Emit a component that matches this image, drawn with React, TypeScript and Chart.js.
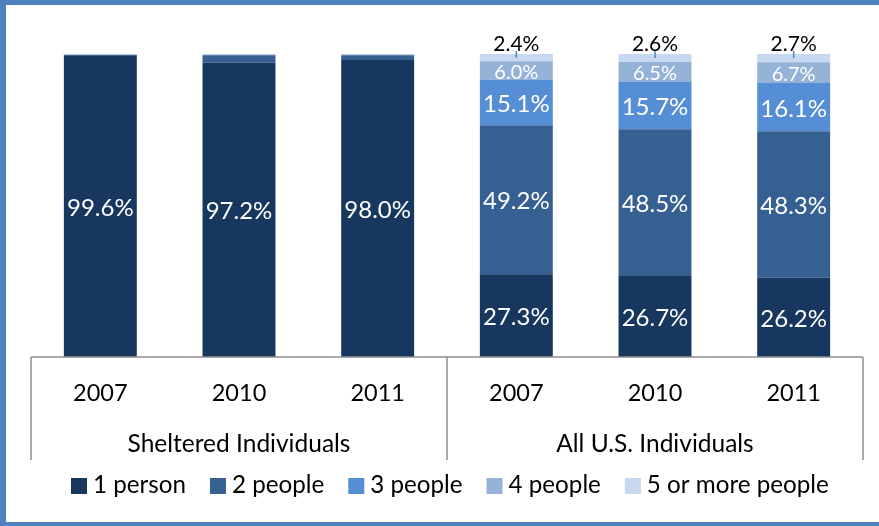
import React, { useEffect, useRef } from "react";
import { Chart, registerables } from "chart.js";

Chart.register(...registerables);

const categories = ["2007", "2010", "2011", "2007", "2010", "2011"];
const groups = ["Sheltered Individuals", "All U.S. Individuals"];
const groupSizes = [3, 3];
const seriesNames = ["1 person", "2 people", "3 people", "4 people", "5 or more people"];
const onePerson = [99.6, 97.2, 98.0, 27.3, 26.7, 26.2];
const twoPeople = [0.1, 2.4, 1.6, 49.2, 48.5, 48.3];
const threePeople = [0.05, 0.1, 0.1, 15.1, 15.7, 16.1];
const fourPeople = [0.05, 0.1, 0.1, 6.0, 6.5, 6.7];
const fivePlus = [0.2, 0.2, 0.2, 2.4, 2.6, 2.7];
const colors = ["#17375E", "#376092", "#558ED5", "#95B3D7", "#C6D9F1"];

const FONT = "Lato, 'Open Sans', sans-serif";

const fmt = (v: number) => v.toFixed(1) + "%";

const overlayPlugin = {
  id: "overlay",
  afterDatasetsDraw(chart: any) {
    const ctx = chart.ctx;
    const area = chart.chartArea;
    const xs = chart.scales.x;
    ctx.save();
    // data labels
    const nds = chart.data.datasets.length;
    chart.data.datasets.forEach((ds: any, di: number) => {
      const meta = chart.getDatasetMeta(di);
      meta.data.forEach((bar: any, i: number) => {
        const v = ds.data[i];
        const cy = (bar.y + bar.base) / 2;
        if (v >= 5) {
          ctx.fillStyle = "#FFFFFF";
          ctx.font = (v < 10 ? "20px " : "24px ") + FONT;
          ctx.textAlign = "center";
          ctx.textBaseline = "middle";
          ctx.fillText(fmt(v), bar.x, cy + 2);
        } else if (di === nds - 1 && v >= 1) {
          ctx.strokeStyle = "#4F81BD";
          ctx.lineWidth = 1.5;
          ctx.beginPath();
          ctx.moveTo(bar.x, bar.y - 3);
          ctx.lineTo(bar.x, cy);
          ctx.stroke();
          ctx.fillStyle = "#000000";
          ctx.font = "21px " + FONT;
          ctx.textAlign = "center";
          ctx.textBaseline = "alphabetic";
          ctx.fillText(fmt(v), bar.x, bar.y - 3);
        }
      });
    });
    // axis
    ctx.strokeStyle = "#8E8E8E";
    ctx.lineWidth = 1.5;
    const bottom = area.bottom;
    const lineBottom = bottom + 103;
    ctx.beginPath();
    ctx.moveTo(area.left, bottom);
    ctx.lineTo(area.right, bottom);
    let idx = 0;
    const bounds: number[] = [area.left];
    groupSizes.forEach((n, gi) => {
      idx += n;
      if (gi < groupSizes.length - 1) {
        bounds.push((xs.getPixelForValue(idx - 1) + xs.getPixelForValue(idx)) / 2);
      }
    });
    bounds.push(area.right);
    bounds.forEach((bx) => {
      ctx.moveTo(bx, bottom);
      ctx.lineTo(bx, lineBottom);
    });
    ctx.stroke();
    // year ticks
    ctx.fillStyle = "#000000";
    ctx.font = "23.5px " + FONT;
    ctx.textAlign = "center";
    ctx.textBaseline = "alphabetic";
    categories.forEach((c, i) => {
      ctx.fillText(c, xs.getPixelForValue(i), bottom + 44);
    });
    ctx.font = "24.5px " + FONT;
    groups.forEach((g, gi) => {
      ctx.fillText(g, (bounds[gi] + bounds[gi + 1]) / 2, bottom + 95);
    });
    // legend
    ctx.font = "24.2px " + FONT;
    ctx.textAlign = "left";
    let lx = area.left + 40;
    const boxTop = bottom + 121;
    chart.data.datasets.forEach((ds: any) => {
      ctx.fillStyle = ds.backgroundColor;
      ctx.fillRect(lx, boxTop, 16, 16);
      lx += 22;
      ctx.fillStyle = "#000000";
      ctx.fillText(ds.label, lx, bottom + 136);
      lx += ctx.measureText(ds.label).width + 24;
    });
    ctx.restore();
  },
};

export default function App() {
  const ref = useRef<HTMLCanvasElement | null>(null);
  useEffect(() => {
    if (!ref.current) return;
    const seriesData = [onePerson, twoPeople, threePeople, fourPeople, fivePlus];
    const chart = new Chart(ref.current, {
      type: "bar",
      data: {
        labels: categories,
        datasets: seriesNames.map((name, i) => ({
          label: name,
          data: seriesData[i],
          backgroundColor: colors[i],
          borderWidth: 0,
          categoryPercentage: 1,
          barPercentage: 0.526,
        })),
      },
      options: {
        responsive: false,
        animation: false,
        devicePixelRatio: 1,
        layout: { padding: { left: 25, right: 16, top: 49, bottom: 165 } },
        plugins: { legend: { display: false }, tooltip: { enabled: false } },
        scales: {
          x: { stacked: true, display: false },
          y: { stacked: true, display: false, min: 0, max: 100 },
        },
      },
      plugins: [overlayPlugin],
    });
    return () => chart.destroy();
  }, []);
  return (
    <div
      style={{
        position: "absolute",
        left: 0,
        top: 0,
        width: 879,
        height: 526,
        boxSizing: "border-box",
        borderTop: "5px solid #4F81BD",
        borderLeft: "6px solid #4F81BD",
        borderBottom: "4px solid #4F81BD",
        background: "#FFFFFF",
        overflow: "hidden",
      }}
    >
      <canvas ref={ref} width={873} height={517} style={{ display: "block", width: 873, height: 517 }} />
    </div>
  );
}
